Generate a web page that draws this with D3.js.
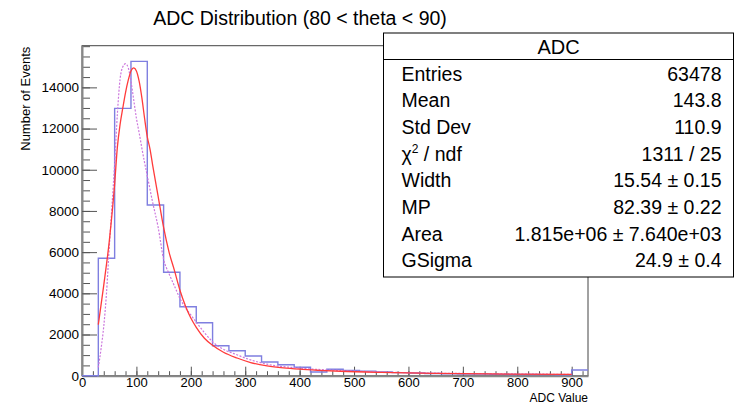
<!DOCTYPE html>
<html lang="en">
  <head>
    <meta charset="UTF-8" />
    <title>ADC Distribution</title>
    <script src="https://cdn.jsdelivr.net/npm/d3@7.6.1/dist/d3.min.js"></script>
    <style>
      body { margin: 0; background: #fff; }
      svg { display: block; font-family: 'Liberation Sans', Arial, Helvetica, sans-serif; }
    </style>
  </head>
  <body>
    <div id="box"></div>
    <script>
      const width = 735;
      const height = 404;

      // histogram: 30-wide bins from 0 to 930
      const binEdges = d3.range(0, 931, 30);
      const binCounts = [0, 5700, 12980, 15260, 8290, 5020, 3350, 2570, 1456, 1214, 956, 665, 534, 408, 180,
        311, 250, 220, 180, 150, 130, 110, 95, 85, 75, 65, 60, 55, 50, 45, 280];

      // fit curve (red)
      const fitX = [30, 40, 50, 60, 65, 70, 75, 80, 85, 90, 95, 100, 105, 110, 115, 120, 125, 130, 140, 150, 160,
        170, 180, 190, 200, 210, 225, 240, 260, 285, 310, 340, 370, 400, 435, 475, 550, 650, 750, 900];
      const fitY = [2480, 4400, 6500, 9300, 11100, 12200, 13000, 13750, 14350, 14800, 14950, 14800, 14300, 13500,
        12500, 11600, 11000, 10200, 8700, 7200, 6000, 5100, 4150, 3400, 2800, 2350, 1820, 1480, 1140, 860, 640, 480,
        380, 315, 262, 215, 160, 115, 85, 60];

      // second curve (magenta, dotted)
      const altX = [30, 35, 40, 45, 50, 55, 60, 65, 70, 75, 80, 85, 90, 95, 100, 105, 110, 115, 120, 130, 140, 150,
        160, 170, 180, 190, 200, 210, 240, 290, 340, 400, 475, 550, 650, 750, 900];
      const altY = [400, 1300, 2400, 4000, 6200, 8200, 10300, 12700, 14400, 15000, 15150, 14950, 14300, 13400, 12500,
        11800, 11050, 10350, 9700, 8400, 7200, 5650, 4950, 4350, 3750, 3300, 2950, 2600, 1650, 960, 560, 370, 250,
        180, 125, 95, 65];

      const xTicks = d3.range(0, 901, 100);
      const xMinor = d3.range(0, 931, 20);
      const yTicks = d3.range(0, 14001, 2000);
      const yMinor = d3.range(0, 16001, 500);

      const statLabels = ['Entries', 'Mean', 'Std Dev', 'chi2', 'Width', 'MP', 'Area', 'GSigma'];
      const statValues = ['63478', '143.8', '110.9', '1311 / 25', '15.54 \u00b1 0.15', '82.39 \u00b1 0.22',
        '1.815e+06 \u00b1 7.640e+03', '24.9 \u00b1 0.4'];

      const margin = {left: 82, right: 147, top: 45.7, bottom: 28.3};
      const svg = d3.select('#box').append('svg').attr('width', width).attr('height', height);

      const x = d3.scaleLinear().domain([0, 930]).range([margin.left, width - margin.right]);
      const y = d3.scaleLinear().domain([0, 16023]).range([height - margin.bottom, margin.top]);

      // frame top / right
      svg.append('rect')
        .attr('x', x(0)).attr('y', y(16023))
        .attr('width', x(930) - x(0)).attr('height', y(0) - y(16023))
        .attr('fill', 'none').attr('stroke', '#444').attr('stroke-width', 1);

      // minor ticks
      svg.append('g')
        .attr('transform', `translate(0,${y(0)})`)
        .call(d3.axisBottom(x).tickValues(xMinor).tickSize(-4.5).tickFormat(''))
        .call(g => g.select('.domain').remove())
        .selectAll('line').attr('stroke', '#555');
      svg.append('g')
        .attr('transform', `translate(${x(0)},0)`)
        .call(d3.axisLeft(y).tickValues(yMinor).tickSize(-8).tickFormat(''))
        .call(g => g.select('.domain').remove())
        .selectAll('line').attr('stroke', '#555');

      // major ticks + labels
      const gx = svg.append('g')
        .attr('transform', `translate(0,${y(0)})`)
        .call(d3.axisBottom(x).tickValues(xTicks).tickFormat(d3.format('d')).tickSize(-9).tickPadding(2).tickSizeOuter(0));
      const gy = svg.append('g')
        .attr('transform', `translate(${x(0)},0)`)
        .call(d3.axisLeft(y).tickValues(yTicks).tickFormat(d3.format('d')).tickSize(-15).tickPadding(3).tickSizeOuter(0));
      [gx, gy].forEach(g => {
        g.selectAll('text').attr('font-size', 13.5).attr('fill', '#000')
          .attr('font-family', "'Liberation Sans', Arial, Helvetica, sans-serif");
        g.selectAll('.tick line').attr('stroke', '#555');
        g.select('.domain').attr('stroke', '#888').attr('stroke-width', 2);
      });
      gx.selectAll('text').attr('font-size', 13);

      // histogram outline
      const steps = [[binEdges[0], 0]];
      binCounts.forEach((c, i) => {
        steps.push([binEdges[i], c]);
        steps.push([binEdges[i + 1], c]);
      });
      svg.append('path')
        .datum(steps)
        .attr('fill', 'none')
        .attr('stroke', '#7f7fe0')
        .attr('stroke-width', 1.4)
        .attr('d', d3.line().x(d => x(d[0])).y(d => y(d[1])));

      // curves
      svg.append('path')
        .datum(altX.map((v, i) => [v, altY[i]]))
        .attr('fill', 'none')
        .attr('stroke', '#cc77dd')
        .attr('stroke-width', 1.2)
        .attr('stroke-dasharray', '2,1.5')
        .attr('d', d3.line().curve(d3.curveMonotoneX).x(d => x(d[0])).y(d => y(d[1])));
      svg.append('path')
        .datum(fitX.map((v, i) => [v, fitY[i]]))
        .attr('fill', 'none')
        .attr('stroke', '#ff3b3b')
        .attr('stroke-width', 1.3)
        .attr('d', d3.line().curve(d3.curveMonotoneX).x(d => x(d[0])).y(d => y(d[1])));

      // titles
      svg.append('text')
        .attr('x', 300).attr('y', 25)
        .attr('text-anchor', 'middle').attr('font-size', 19.5)
        .text('ADC Distribution (80 < theta < 90)');
      svg.append('text')
        .attr('transform', `translate(30,${margin.top + 1}) rotate(-90)`)
        .attr('text-anchor', 'end').attr('font-size', 13)
        .text('Number of Events');
      svg.append('text')
        .attr('x', x(930)).attr('y', 401.5)
        .attr('text-anchor', 'end').attr('font-size', 12)
        .text('ADC Value');

      // stats box
      const sb = {x: 383.5, y: 33, w: 350, h: 244, head: 26.5, row: 26.7};
      const stats = svg.append('g');
      stats.append('rect')
        .attr('x', sb.x).attr('y', sb.y).attr('width', sb.w).attr('height', sb.h)
        .attr('fill', '#fff').attr('stroke', '#000').attr('stroke-width', 1);
      stats.append('line')
        .attr('x1', sb.x).attr('x2', sb.x + sb.w)
        .attr('y1', sb.y + sb.head).attr('y2', sb.y + sb.head)
        .attr('stroke', '#000');
      stats.append('text')
        .attr('x', sb.x + sb.w / 2).attr('y', sb.y + 20.5)
        .attr('text-anchor', 'middle').attr('font-size', 20)
        .text('ADC');

      const rows = stats.selectAll('.row')
        .data(statLabels)
        .enter()
        .append('g')
        .attr('class', 'row')
        .attr('transform', (d, i) => `translate(0,${sb.y + sb.head + 21 + i * sb.row})`);
      rows.append('text')
        .attr('x', sb.x + 18)
        .attr('font-size', 19.5)
        .each(function (d) {
          const t = d3.select(this);
          if (d === 'chi2') {
            t.append('tspan').text('\u03c7');
            t.append('tspan').attr('font-size', 12).attr('dy', -8).text('2');
            t.append('tspan').attr('dy', 8).text(' / ndf');
          } else {
            t.text(d);
          }
        });
      rows.append('text')
        .attr('x', sb.x + sb.w - 12)
        .attr('text-anchor', 'end')
        .attr('font-size', 19.5)
        .text((d, i) => statValues[i]);
    </script>
  </body>
</html>
